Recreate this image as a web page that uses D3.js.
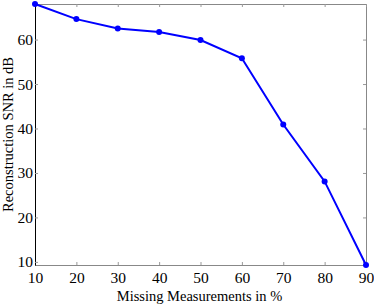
<!DOCTYPE html>
<html lang='en'>
  <head>
    <meta charset="utf-8">
    <style>
      body { margin: 0; background: #fff; }
      text { font-family: "Liberation Serif", serif; fill: #000; }
    </style>
    <script src="https://d3js.org/d3.v7.min.js"></script>
  </head>
  <body>
    <div id="chart"></div>
  <script>
    // values
    var missing = [10, 20, 30, 40, 50, 60, 70, 80, 90];
    var snr = [68, 64.6, 62.5, 61.7, 59.9, 55.8, 40.9, 28.1, 9.3];
    var xTicks = [10, 20, 30, 40, 50, 60, 70, 80, 90];
    var yTicks = [10, 20, 30, 40, 50, 60];

    var margin = {top: 4, right: 8, bottom: 42, left: 35},
        width = 374 - margin.left - margin.right,
        height = 307 - margin.top - margin.bottom;

    var svg = d3.select("#chart")
      .append("svg")
        .attr("width", 374)
        .attr("height", 307)
      .append("g")
        .attr("transform", "translate(" + margin.left + "," + margin.top + ")");

    var x = d3.scaleLinear().domain([10, 90]).range([0, width]);
    var y = d3.scaleLinear().domain([d3.min(snr), d3.max(snr)]).range([height, 0]);

    // box (top + right) in grey
    svg.append("rect")
      .attr("x", 0).attr("y", 0)
      .attr("width", width).attr("height", height)
      .attr("fill", "none").attr("stroke", "#888")
      .attr("shape-rendering", "crispEdges");

    // bottom axis, ticks pointing inside
    var xAxis = svg.append("g")
      .attr("transform", "translate(0," + height + ")")
      .call(d3.axisBottom(x).tickValues(xTicks).tickSizeInner(-3).tickSizeOuter(0).tickPadding(7));
    xAxis.select(".domain").attr("stroke", "#888");
    xAxis.selectAll(".tick line").attr("stroke", "#999");
    xAxis.selectAll("text").style("font-size", "15.5px");

    // top ticks
    svg.append("g")
      .call(d3.axisTop(x).tickValues(xTicks).tickSizeInner(-3).tickSizeOuter(0).tickFormat(""))
      .call(function(g) { g.select(".domain").remove(); g.selectAll(".tick line").attr("stroke", "#999"); });

    // left axis
    var yAxis = svg.append("g")
      .call(d3.axisLeft(y).tickValues(yTicks).tickSizeInner(-3).tickSizeOuter(0).tickPadding(2));
    yAxis.select(".domain").attr("stroke", "#000");
    yAxis.selectAll(".tick line").attr("stroke", "#999");
    yAxis.selectAll("text").style("font-size", "15.5px");

    // right ticks
    svg.append("g")
      .attr("transform", "translate(" + width + ",0)")
      .call(d3.axisRight(y).tickValues(yTicks).tickSizeInner(-3).tickSizeOuter(0).tickFormat(""))
      .call(function(g) { g.select(".domain").remove(); g.selectAll(".tick line").attr("stroke", "#999"); });

    // line
    var line = d3.line()
      .x(function(d, i) { return x(missing[i]); })
      .y(function(d) { return y(d); });
    svg.append("path")
      .datum(snr)
      .attr("d", line)
      .attr("fill", "none")
      .attr("stroke", "#0000ff")
      .attr("stroke-width", 2);

    svg.selectAll("myDots")
      .data(snr)
      .enter()
      .append("circle")
        .attr("cx", function(d, i) { return x(missing[i]); })
        .attr("cy", function(d) { return y(d); })
        .attr("r", 3)
        .attr("fill", "#0000ff");

    // axis labels
    svg.append("text")
      .attr("x", width / 2 - 1)
      .attr("y", height + 36)
      .attr("text-anchor", "middle")
      .style("font-size", "14.5px")
      .text("Missing Measurements in %");

    svg.append("text")
      .attr("transform", "translate(-22," + (height / 2) + ") rotate(-90)")
      .attr("text-anchor", "middle")
      .style("font-size", "14.5px")
      .text("Reconstruction SNR in dB");
  </script>
  </body>
</html>
